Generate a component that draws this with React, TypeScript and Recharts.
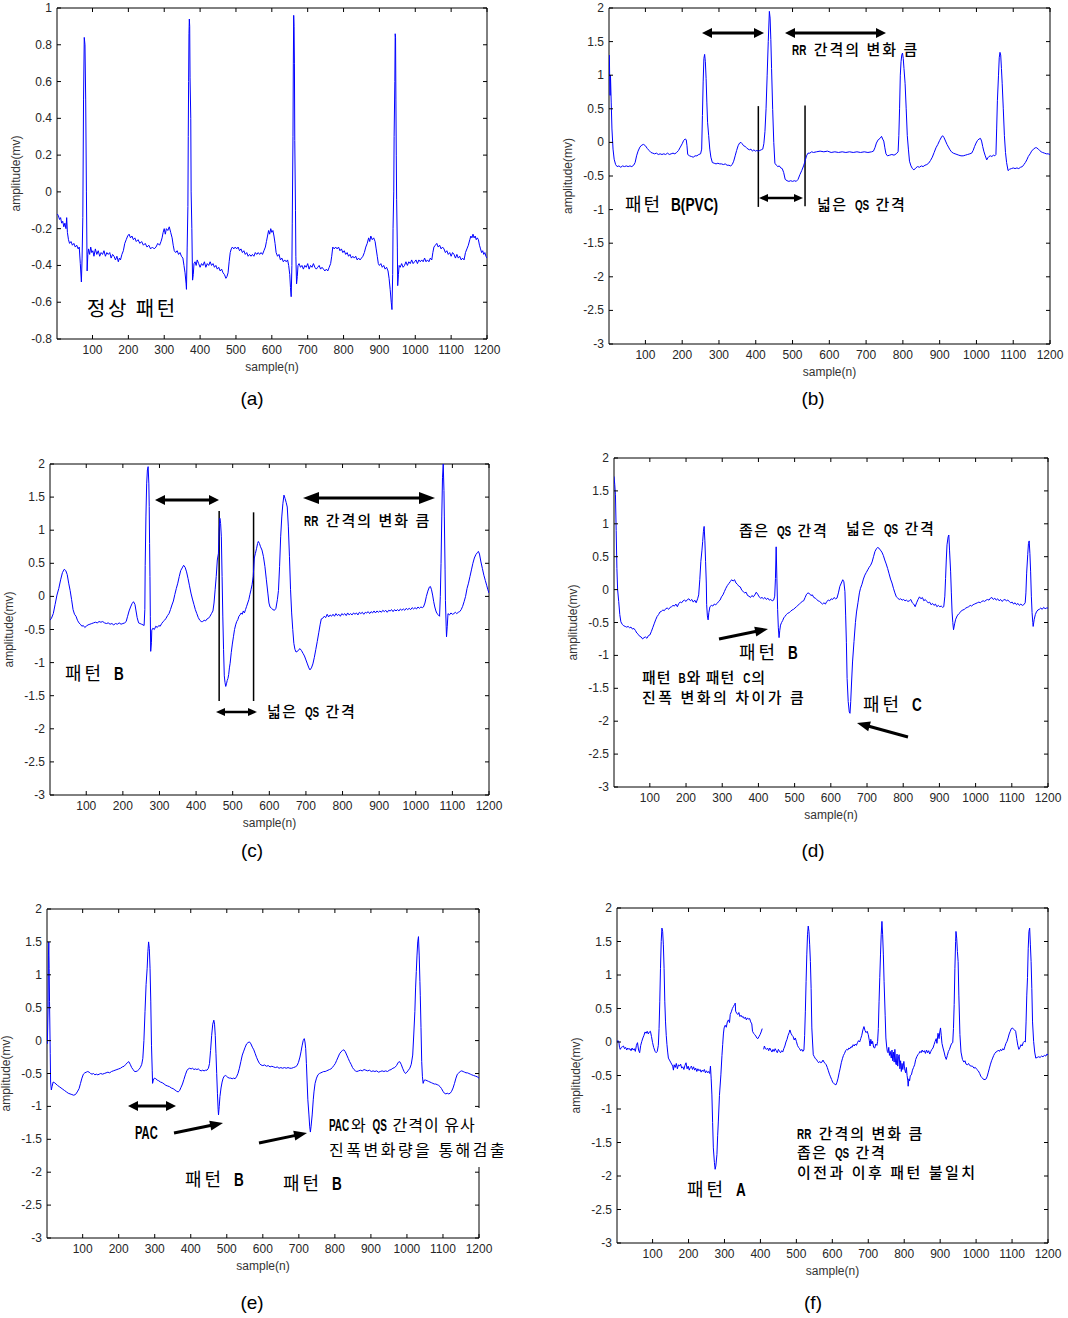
import React from 'react';
import { LineChart, Line, XAxis, YAxis, ReferenceArea, ReferenceLine } from 'recharts';

// sample ticks shared by every panel
const sampleTicks = [100, 200, 300, 400, 500, 600, 700, 800, 900, 1000, 1100, 1200];
const ampTicksA = [-0.8, -0.6, -0.4, -0.2, 0, 0.2, 0.4, 0.6, 0.8, 1];
const ampTicks = [-3, -2.5, -2, -1.5, -1, -0.5, 0, 0.5, 1, 1.5, 2];

// [sample, amplitude(mv)]
const ecgA = [
  [2, -0.12], [5, -0.13], [8, -0.15], [11, -0.14], [14, -0.17], [17, -0.16], [20, -0.19], [23, -0.17], [26, -0.2], [28, -0.14],
  [30, -0.22], [33, -0.26], [36, -0.28], [40, -0.27], [44, -0.29], [48, -0.28], [52, -0.3], [56, -0.29], [60, -0.31], [63, -0.3],
  [66, -0.39], [69, -0.49], [71, -0.36], [73, -0.14], [75, 0.5], [77, 0.84], [79, 0.8], [81, 0.5], [83, 0], [85, -0.43],
  [87, -0.34], [89, -0.31], [92, -0.34], [95, -0.3], [98, -0.33], [101, -0.32], [104, -0.35], [108, -0.31], [112, -0.34], [116, -0.32],
  [120, -0.35], [124, -0.33], [128, -0.34], [132, -0.32], [136, -0.35], [140, -0.33], [144, -0.34], [148, -0.33], [152, -0.36], [156, -0.34],
  [160, -0.35], [164, -0.37], [168, -0.35], [172, -0.38], [175, -0.36], [178, -0.37], [182, -0.34], [186, -0.32], [190, -0.28], [194, -0.26],
  [198, -0.24], [202, -0.23], [206, -0.25], [210, -0.24], [214, -0.26], [218, -0.25], [222, -0.27], [227, -0.26], [232, -0.28], [237, -0.27],
  [242, -0.29], [247, -0.28], [252, -0.3], [257, -0.29], [262, -0.31], [267, -0.3], [272, -0.31], [277, -0.3], [282, -0.28], [287, -0.29],
  [291, -0.27], [294, -0.25], [297, -0.22], [300, -0.2], [303, -0.23], [306, -0.2], [310, -0.21], [314, -0.19], [318, -0.22], [322, -0.25],
  [325, -0.29], [328, -0.32], [332, -0.33], [336, -0.32], [340, -0.34], [344, -0.33], [348, -0.35], [352, -0.36], [355, -0.4], [358, -0.44],
  [361, -0.5], [362, -0.53], [364, -0.3], [366, -0.08], [367, 0.3], [368, 0.6], [369, 0.86], [370, 0.94], [371, 0.9], [372, 0.62],
  [374, 0.4], [375, 0], [377, -0.2], [379, -0.48], [381, -0.45], [383, -0.39], [386, -0.38], [389, -0.4], [392, -0.37], [396, -0.39],
  [400, -0.41], [404, -0.39], [408, -0.4], [412, -0.38], [416, -0.41], [420, -0.39], [424, -0.4], [428, -0.38], [432, -0.4], [436, -0.39],
  [440, -0.41], [444, -0.4], [448, -0.42], [452, -0.41], [456, -0.43], [460, -0.42], [464, -0.44], [468, -0.45], [472, -0.47], [475, -0.46],
  [478, -0.44], [481, -0.38], [484, -0.33], [487, -0.31], [490, -0.3], [494, -0.31], [498, -0.3], [502, -0.31], [506, -0.3], [510, -0.32],
  [514, -0.31], [518, -0.33], [522, -0.32], [526, -0.34], [530, -0.33], [534, -0.35], [538, -0.34], [542, -0.35], [546, -0.34], [550, -0.35],
  [554, -0.33], [558, -0.34], [562, -0.33], [566, -0.34], [570, -0.33], [574, -0.34], [578, -0.32], [582, -0.3], [585, -0.27], [588, -0.24],
  [591, -0.21], [594, -0.23], [597, -0.2], [600, -0.22], [603, -0.21], [606, -0.24], [609, -0.28], [612, -0.33], [616, -0.35], [620, -0.34],
  [624, -0.37], [628, -0.36], [632, -0.38], [636, -0.37], [640, -0.38], [644, -0.37], [647, -0.4], [650, -0.45], [652, -0.52], [654, -0.57],
  [656, -0.4], [657, -0.17], [659, 0.3], [660, 0.7], [661, 0.96], [662, 0.9], [663, 0.7], [664, 0.28], [666, -0.1], [667, -0.35],
  [669, -0.5], [671, -0.46], [673, -0.4], [676, -0.39], [680, -0.41], [684, -0.4], [688, -0.42], [692, -0.4], [696, -0.41], [700, -0.39],
  [704, -0.42], [708, -0.4], [712, -0.41], [716, -0.39], [720, -0.41], [724, -0.42], [728, -0.41], [732, -0.4], [736, -0.42], [740, -0.41],
  [744, -0.42], [748, -0.43], [752, -0.42], [756, -0.43], [760, -0.41], [764, -0.39], [767, -0.35], [770, -0.3], [774, -0.31], [778, -0.3],
  [782, -0.31], [786, -0.3], [790, -0.32], [794, -0.31], [798, -0.33], [802, -0.32], [806, -0.34], [810, -0.33], [814, -0.35], [818, -0.34],
  [822, -0.36], [826, -0.35], [830, -0.36], [834, -0.35], [838, -0.37], [842, -0.36], [846, -0.37], [850, -0.36], [854, -0.35], [858, -0.33],
  [862, -0.3], [866, -0.28], [870, -0.25], [873, -0.27], [876, -0.24], [880, -0.26], [884, -0.25], [888, -0.27], [891, -0.31], [894, -0.35],
  [897, -0.39], [900, -0.4], [904, -0.39], [908, -0.41], [912, -0.4], [916, -0.42], [920, -0.41], [924, -0.43], [927, -0.47], [930, -0.53],
  [933, -0.6], [935, -0.64], [937, -0.45], [938, -0.2], [940, 0], [941, 0.3], [943, 0.6], [944, 0.86], [945, 0.84], [946, 0.5],
  [947, 0.2], [948, -0.04], [950, -0.3], [951, -0.51], [953, -0.45], [955, -0.4], [958, -0.41], [962, -0.39], [966, -0.41], [970, -0.4],
  [974, -0.38], [978, -0.4], [982, -0.38], [986, -0.39], [990, -0.37], [994, -0.39], [998, -0.38], [1002, -0.37], [1006, -0.39], [1010, -0.37],
  [1014, -0.38], [1018, -0.37], [1022, -0.38], [1026, -0.36], [1030, -0.38], [1034, -0.37], [1038, -0.38], [1042, -0.36], [1046, -0.37], [1049, -0.33],
  [1052, -0.3], [1056, -0.29], [1060, -0.28], [1064, -0.3], [1068, -0.29], [1072, -0.31], [1076, -0.3], [1080, -0.31], [1084, -0.33], [1088, -0.32],
  [1092, -0.34], [1096, -0.33], [1100, -0.35], [1104, -0.33], [1108, -0.34], [1112, -0.36], [1116, -0.34], [1120, -0.36], [1124, -0.35], [1128, -0.37],
  [1132, -0.36], [1136, -0.37], [1140, -0.33], [1144, -0.31], [1148, -0.29], [1152, -0.26], [1155, -0.24], [1158, -0.25], [1161, -0.23], [1164, -0.25],
  [1167, -0.24], [1170, -0.26], [1173, -0.25], [1176, -0.26], [1179, -0.29], [1182, -0.31], [1185, -0.33], [1188, -0.32], [1191, -0.34], [1194, -0.33],
  [1197, -0.35], [1200, -0.36],
];

const ecgB = [
  [2, 1.3], [3, 0.9], [4, 0.7], [5, 1.0], [7, 0.6], [9, 0.2], [12, -0.1], [15, -0.25], [19, -0.33], [23, -0.36],
  [28, -0.35], [33, -0.37], [38, -0.35], [43, -0.36], [48, -0.35], [53, -0.36], [58, -0.35], [63, -0.36], [68, -0.34], [72, -0.3],
  [76, -0.2], [80, -0.13], [85, -0.07], [90, -0.04], [95, -0.03], [100, -0.05], [105, -0.09], [110, -0.12], [115, -0.15], [120, -0.16],
  [125, -0.17], [130, -0.16], [135, -0.18], [140, -0.17], [145, -0.18], [150, -0.17], [155, -0.18], [160, -0.16], [165, -0.18], [170, -0.17],
  [175, -0.16], [180, -0.17], [185, -0.15], [190, -0.12], [195, -0.07], [200, -0.02], [204, 0.03], [208, 0.05], [211, 0.04], [213, -0.05],
  [215, -0.18], [220, -0.2], [225, -0.21], [230, -0.22], [235, -0.2], [240, -0.2], [245, -0.18], [250, -0.17], [253, -0.1], [255, 0.4],
  [257, 0.9], [259, 1.25], [261, 1.31], [263, 1.2], [265, 0.95], [267, 0.6], [269, 0.3], [272, 0.1], [275, -0.1], [278, -0.22],
  [282, -0.3], [287, -0.31], [292, -0.32], [297, -0.31], [302, -0.32], [307, -0.32], [312, -0.33], [317, -0.32], [322, -0.34], [327, -0.34],
  [332, -0.35], [336, -0.33], [340, -0.28], [344, -0.2], [348, -0.12], [352, -0.05], [356, -0.01], [360, 0.0], [363, -0.02], [367, -0.05],
  [371, -0.06], [375, -0.08], [379, -0.1], [383, -0.11], [387, -0.1], [391, -0.13], [395, -0.11], [399, -0.13], [403, -0.12], [407, -0.13],
  [411, -0.12], [415, -0.11], [419, -0.1], [422, -0.02], [425, 0.16], [428, 0.5], [431, 1.0], [434, 1.5], [437, 1.95], [439, 1.85],
  [441, 1.53], [443, 1.1], [446, 0.49], [449, 0.0], [452, -0.31], [456, -0.34], [460, -0.36], [464, -0.35], [468, -0.38], [472, -0.39],
  [476, -0.45], [480, -0.55], [485, -0.57], [490, -0.58], [495, -0.57], [500, -0.58], [505, -0.57], [510, -0.58], [515, -0.55], [520, -0.48],
  [525, -0.42], [530, -0.35], [534, -0.28], [538, -0.2], [542, -0.16], [547, -0.16], [552, -0.14], [557, -0.15], [565, -0.14], [575, -0.13],
  [585, -0.14], [595, -0.13], [605, -0.15], [615, -0.14], [625, -0.15], [635, -0.14], [645, -0.15], [655, -0.14], [665, -0.15], [675, -0.14],
  [685, -0.15], [695, -0.14], [705, -0.15], [715, -0.14], [720, -0.13], [724, -0.08], [728, -0.01], [733, 0.04], [738, 0.06], [742, 0.09],
  [745, 0.05], [748, 0.02], [751, -0.08], [754, -0.17], [758, -0.2], [764, -0.19], [770, -0.18], [776, -0.19], [782, -0.17], [787, -0.14],
  [789, 0.1], [791, 0.5], [793, 1.0], [795, 1.2], [797, 1.3], [799, 1.33], [801, 1.25], [803, 1.1], [806, 0.88], [809, 0.5],
  [812, 0.1], [815, -0.1], [818, -0.28], [822, -0.35], [826, -0.39], [830, -0.41], [835, -0.38], [840, -0.36], [845, -0.37], [850, -0.35],
  [855, -0.36], [860, -0.34], [865, -0.33], [870, -0.31], [875, -0.27], [880, -0.22], [885, -0.15], [890, -0.08], [895, -0.03], [900, 0.03],
  [905, 0.08], [908, 0.1], [912, 0.07], [916, 0.02], [920, -0.03], [924, -0.07], [928, -0.11], [932, -0.14], [937, -0.16], [942, -0.17],
  [947, -0.18], [952, -0.19], [958, -0.2], [964, -0.2], [970, -0.19], [976, -0.18], [982, -0.17], [987, -0.16], [991, -0.12], [995, -0.06],
  [999, -0.01], [1003, 0.03], [1007, 0.05], [1011, 0.06], [1014, 0.02], [1017, -0.06], [1020, -0.13], [1024, -0.2], [1028, -0.26], [1031, -0.23],
  [1034, -0.21], [1038, -0.2], [1042, -0.21], [1046, -0.19], [1050, -0.2], [1053, -0.18], [1055, 0.2], [1057, 0.62], [1060, 1.0], [1062, 1.26],
  [1064, 1.34], [1066, 1.3], [1068, 1.1], [1070, 0.88], [1073, 0.5], [1076, 0.1], [1079, -0.15], [1082, -0.3], [1086, -0.42], [1090, -0.4],
  [1095, -0.39], [1100, -0.38], [1105, -0.39], [1110, -0.38], [1115, -0.39], [1120, -0.37], [1125, -0.36], [1129, -0.33], [1133, -0.3], [1137, -0.26],
  [1141, -0.21], [1146, -0.17], [1150, -0.13], [1155, -0.1], [1160, -0.08], [1164, -0.08], [1168, -0.1], [1172, -0.12], [1176, -0.14], [1180, -0.15],
  [1185, -0.16], [1190, -0.17], [1195, -0.17], [1200, -0.18],
];

const ecgC = [
  [1, -0.36], [5, -0.33], [10, -0.26], [15, -0.12], [20, 0.02], [25, 0.12], [30, 0.25], [35, 0.36], [40, 0.41], [44, 0.39],
  [48, 0.33], [52, 0.2], [56, 0.09], [60, -0.05], [64, -0.2], [68, -0.27], [72, -0.3], [76, -0.36], [80, -0.4], [84, -0.42],
  [88, -0.45], [92, -0.44], [96, -0.47], [100, -0.45], [105, -0.43], [110, -0.42], [115, -0.41], [120, -0.4], [125, -0.39], [130, -0.4],
  [135, -0.38], [140, -0.39], [145, -0.38], [150, -0.4], [155, -0.41], [160, -0.4], [165, -0.42], [170, -0.41], [175, -0.43], [180, -0.41],
  [185, -0.42], [190, -0.4], [195, -0.42], [200, -0.41], [205, -0.4], [209, -0.38], [213, -0.3], [217, -0.22], [221, -0.16], [225, -0.11],
  [229, -0.08], [233, -0.12], [236, -0.22], [239, -0.32], [243, -0.4], [247, -0.41], [251, -0.42], [255, -0.43], [258, -0.44], [260, -0.2],
  [261, 0.47], [263, 1.2], [265, 1.7], [267, 1.91], [269, 1.96], [271, 1.7], [272, 1.36], [273, 0.8], [274, 0.3], [275, -0.3],
  [276, -0.83], [278, -0.7], [279, -0.51], [282, -0.48], [286, -0.5], [290, -0.45], [294, -0.47], [298, -0.44], [302, -0.45], [306, -0.41],
  [310, -0.38], [314, -0.36], [318, -0.33], [322, -0.29], [326, -0.26], [330, -0.2], [334, -0.13], [338, -0.07], [342, 0.03], [346, 0.12],
  [350, 0.2], [354, 0.3], [358, 0.39], [362, 0.43], [366, 0.47], [370, 0.44], [374, 0.37], [378, 0.27], [382, 0.16], [386, 0.05],
  [390, -0.04], [394, -0.12], [398, -0.2], [402, -0.26], [406, -0.32], [410, -0.36], [414, -0.38], [418, -0.38], [422, -0.36], [426, -0.37],
  [430, -0.34], [434, -0.33], [438, -0.3], [442, -0.26], [446, -0.22], [449, -0.1], [452, 0.1], [455, 0.3], [458, 0.55], [461, 0.65],
  [463, 1.0], [465, 1.18], [467, 1.1], [469, 0.9], [471, 0.3], [473, -0.31], [475, -0.8], [477, -1.2], [479, -1.3], [481, -1.36],
  [483, -1.32], [485, -1.27], [487, -1.24], [489, -1.18], [491, -1.08], [493, -1.01], [496, -0.85], [499, -0.72], [502, -0.61], [505, -0.5],
  [508, -0.43], [511, -0.38], [514, -0.35], [517, -0.3], [520, -0.28], [523, -0.25], [526, -0.27], [529, -0.22], [532, -0.25], [535, -0.2],
  [538, -0.15], [541, -0.1], [544, -0.05], [547, 0.03], [550, 0.1], [553, 0.18], [556, 0.3], [559, 0.58], [562, 0.65], [565, 0.72],
  [568, 0.8], [570, 0.83], [573, 0.8], [576, 0.75], [580, 0.7], [584, 0.6], [588, 0.45], [592, 0.25], [596, 0.05], [599, -0.1],
  [602, -0.16], [606, -0.18], [610, -0.2], [614, -0.21], [618, -0.18], [622, -0.05], [625, 0.09], [628, 0.45], [631, 0.9], [634, 1.2],
  [637, 1.4], [640, 1.53], [643, 1.48], [646, 1.42], [649, 1.35], [652, 1.05], [655, 0.6], [658, 0.1], [661, -0.25], [664, -0.5],
  [667, -0.71], [670, -0.8], [673, -0.84], [677, -0.83], [681, -0.8], [684, -0.79], [688, -0.82], [692, -0.86], [696, -0.9], [700, -0.96],
  [704, -1.02], [708, -1.08], [711, -1.11], [715, -1.08], [719, -1.02], [723, -0.92], [727, -0.8], [731, -0.68], [735, -0.55], [739, -0.42],
  [742, -0.34], [746, -0.33], [750, -0.3], [754, -0.32], [758, -0.27], [762, -0.31], [766, -0.28], [770, -0.3], [774, -0.27], [778, -0.3],
  [782, -0.26], [786, -0.29], [790, -0.27], [794, -0.3], [798, -0.26], [802, -0.28], [806, -0.26], [810, -0.29], [814, -0.25], [818, -0.28],
  [822, -0.26], [826, -0.28], [830, -0.25], [834, -0.27], [838, -0.25], [842, -0.28], [846, -0.24], [850, -0.26], [854, -0.24], [858, -0.27],
  [862, -0.24], [866, -0.25], [870, -0.23], [874, -0.26], [878, -0.23], [882, -0.25], [886, -0.22], [890, -0.25], [894, -0.22], [898, -0.24],
  [902, -0.22], [906, -0.24], [910, -0.21], [914, -0.23], [918, -0.21], [922, -0.24], [926, -0.21], [930, -0.22], [934, -0.2], [938, -0.23],
  [942, -0.2], [946, -0.22], [950, -0.2], [954, -0.22], [958, -0.19], [962, -0.21], [966, -0.19], [970, -0.21], [974, -0.18], [978, -0.2],
  [982, -0.18], [986, -0.2], [990, -0.17], [994, -0.19], [998, -0.17], [1002, -0.19], [1006, -0.16], [1010, -0.18], [1014, -0.16], [1018, -0.17],
  [1021, -0.16], [1025, -0.1], [1029, 0.0], [1033, 0.08], [1037, 0.14], [1040, 0.15], [1043, 0.1], [1046, 0.02], [1049, -0.08], [1052, -0.16],
  [1055, -0.22], [1058, -0.26], [1062, -0.28], [1065, -0.3], [1067, 0.0], [1069, 0.5], [1071, 1.2], [1073, 1.8], [1075, 2.0], [1077, 1.6],
  [1078, 1.2], [1080, 0.4], [1081, -0.06], [1083, -0.45], [1084, -0.61], [1086, -0.45], [1088, -0.26], [1092, -0.28], [1096, -0.25], [1100, -0.27],
  [1104, -0.26], [1108, -0.24], [1112, -0.26], [1116, -0.24], [1120, -0.23], [1124, -0.2], [1128, -0.15], [1132, -0.08], [1136, 0.0], [1140, 0.12],
  [1144, 0.2], [1148, 0.3], [1152, 0.4], [1156, 0.5], [1160, 0.58], [1164, 0.63], [1168, 0.66], [1171, 0.68], [1174, 0.64], [1178, 0.52],
  [1182, 0.42], [1186, 0.32], [1190, 0.24], [1194, 0.16], [1197, 0.1], [1200, 0.05],
];

const ecgD = [
  [1, 1.72], [3, 1.6], [5, 1.44], [7, 0.9], [9, 0.32], [11, 0.0], [14, -0.18], [17, -0.38], [20, -0.49], [24, -0.53],
  [28, -0.55], [32, -0.56], [36, -0.57], [40, -0.56], [44, -0.58], [48, -0.57], [52, -0.6], [56, -0.59], [60, -0.62], [64, -0.66],
  [68, -0.68], [72, -0.71], [76, -0.72], [80, -0.75], [84, -0.73], [88, -0.72], [92, -0.74], [96, -0.7], [100, -0.69], [104, -0.64],
  [108, -0.58], [112, -0.52], [116, -0.46], [120, -0.41], [124, -0.38], [128, -0.34], [132, -0.33], [136, -0.31], [140, -0.32], [144, -0.29],
  [148, -0.28], [152, -0.3], [156, -0.27], [160, -0.26], [164, -0.24], [168, -0.25], [172, -0.22], [176, -0.26], [180, -0.21], [184, -0.19],
  [188, -0.2], [192, -0.17], [196, -0.16], [200, -0.18], [204, -0.15], [208, -0.14], [212, -0.17], [216, -0.15], [220, -0.19], [224, -0.16],
  [228, -0.2], [232, -0.14], [235, -0.08], [238, 0.15], [241, 0.43], [244, 0.6], [246, 0.73], [248, 0.88], [250, 0.96], [252, 0.75],
  [254, 0.43], [256, 0.1], [257, -0.23], [259, -0.4], [261, -0.46], [263, -0.35], [266, -0.26], [270, -0.24], [274, -0.25], [278, -0.22],
  [282, -0.23], [286, -0.21], [290, -0.18], [294, -0.16], [298, -0.11], [302, -0.08], [306, -0.03], [310, 0.02], [314, 0.06], [318, 0.09],
  [322, 0.12], [326, 0.15], [330, 0.13], [334, 0.15], [338, 0.1], [342, 0.08], [346, 0.05], [350, 0.04], [354, -0.01], [358, -0.03],
  [362, -0.05], [366, -0.04], [370, -0.09], [374, -0.1], [378, -0.12], [382, -0.09], [386, -0.11], [390, -0.08], [394, -0.04], [398, -0.07],
  [402, -0.11], [406, -0.13], [410, -0.12], [414, -0.14], [418, -0.12], [422, -0.15], [426, -0.13], [430, -0.16], [434, -0.15], [438, -0.17],
  [442, -0.16], [445, -0.1], [447, 0.17], [449, 0.65], [451, 0.17], [453, -0.3], [455, -0.58], [457, -0.73], [459, -0.62], [461, -0.54],
  [464, -0.5], [467, -0.47], [470, -0.43], [473, -0.41], [477, -0.38], [481, -0.36], [485, -0.35], [489, -0.33], [493, -0.31], [497, -0.3],
  [501, -0.28], [505, -0.26], [509, -0.24], [513, -0.22], [517, -0.2], [521, -0.18], [525, -0.17], [529, -0.12], [533, -0.07], [537, -0.05],
  [541, -0.06], [545, -0.09], [549, -0.08], [553, -0.12], [557, -0.13], [561, -0.15], [565, -0.17], [569, -0.18], [573, -0.2], [577, -0.22],
  [581, -0.2], [585, -0.22], [589, -0.18], [593, -0.16], [597, -0.17], [601, -0.14], [605, -0.15], [609, -0.12], [613, -0.14], [617, -0.13],
  [621, -0.05], [625, 0.05], [629, 0.1], [633, 0.15], [636, 0.12], [639, -0.03], [641, -0.4], [643, -0.8], [645, -1.35], [648, -1.7],
  [651, -1.86], [653, -1.88], [655, -1.7], [657, -1.45], [660, -1.1], [664, -0.79], [668, -0.5], [671, -0.34], [675, -0.2], [679, -0.05],
  [682, 0.02], [686, 0.08], [690, 0.16], [694, 0.22], [698, 0.26], [702, 0.3], [706, 0.34], [710, 0.37], [714, 0.42], [718, 0.5],
  [722, 0.58], [726, 0.62], [729, 0.64], [733, 0.63], [737, 0.6], [741, 0.57], [745, 0.52], [749, 0.45], [753, 0.39], [757, 0.32],
  [761, 0.24], [765, 0.16], [769, 0.1], [773, 0.02], [777, -0.05], [781, -0.11], [785, -0.13], [789, -0.15], [793, -0.14], [797, -0.16],
  [801, -0.15], [805, -0.17], [809, -0.16], [813, -0.18], [817, -0.17], [821, -0.15], [825, -0.2], [829, -0.22], [833, -0.26], [837, -0.2],
  [841, -0.15], [845, -0.11], [849, -0.14], [853, -0.12], [857, -0.17], [861, -0.15], [865, -0.18], [869, -0.2], [873, -0.19], [877, -0.23],
  [881, -0.21], [885, -0.24], [889, -0.22], [893, -0.26], [897, -0.24], [901, -0.26], [905, -0.25], [909, -0.27], [912, -0.26], [915, -0.1],
  [917, 0.17], [919, 0.45], [921, 0.68], [924, 0.8], [926, 0.83], [928, 0.6], [931, 0.27], [933, -0.05], [935, -0.34], [937, -0.5],
  [939, -0.61], [942, -0.52], [945, -0.45], [949, -0.4], [953, -0.37], [957, -0.35], [961, -0.32], [965, -0.31], [969, -0.3], [973, -0.28],
  [977, -0.27], [981, -0.26], [985, -0.24], [989, -0.25], [993, -0.23], [997, -0.22], [1001, -0.21], [1005, -0.2], [1009, -0.19], [1013, -0.2],
  [1017, -0.18], [1021, -0.17], [1025, -0.18], [1029, -0.16], [1033, -0.15], [1037, -0.16], [1041, -0.13], [1045, -0.12], [1049, -0.15], [1053, -0.13],
  [1057, -0.16], [1061, -0.14], [1065, -0.17], [1069, -0.15], [1073, -0.18], [1077, -0.16], [1081, -0.15], [1085, -0.17], [1089, -0.16], [1093, -0.18],
  [1097, -0.2], [1101, -0.19], [1105, -0.22], [1109, -0.2], [1113, -0.23], [1117, -0.21], [1121, -0.24], [1125, -0.22], [1129, -0.24], [1133, -0.23],
  [1137, -0.2], [1139, -0.05], [1141, 0.25], [1144, 0.53], [1146, 0.7], [1148, 0.74], [1150, 0.55], [1152, 0.27], [1154, -0.1], [1156, -0.35],
  [1158, -0.5], [1159, -0.56], [1162, -0.45], [1165, -0.38], [1168, -0.34], [1172, -0.31], [1176, -0.3], [1180, -0.28], [1184, -0.3], [1188, -0.27],
  [1192, -0.29], [1196, -0.28], [1200, -0.28],
];

const ecgE = [
  [2, -0.05], [4, 0.5], [5, 1.3], [6, 1.5], [7, 1.1], [8, 0.59], [10, -0.2], [11, -0.63], [13, -0.75], [15, -0.7],
  [18, -0.63], [22, -0.64], [26, -0.66], [30, -0.68], [35, -0.7], [40, -0.72], [45, -0.74], [50, -0.76], [55, -0.78], [60, -0.8],
  [65, -0.81], [70, -0.82], [75, -0.83], [80, -0.82], [85, -0.78], [90, -0.73], [94, -0.65], [98, -0.57], [102, -0.51], [106, -0.49],
  [110, -0.48], [114, -0.47], [118, -0.48], [122, -0.5], [126, -0.51], [130, -0.5], [134, -0.52], [138, -0.51], [142, -0.52], [146, -0.51],
  [150, -0.5], [155, -0.51], [160, -0.5], [165, -0.49], [170, -0.48], [175, -0.49], [180, -0.47], [185, -0.46], [190, -0.45], [195, -0.44],
  [200, -0.43], [205, -0.42], [210, -0.4], [215, -0.39], [220, -0.36], [225, -0.33], [228, -0.32], [232, -0.36], [236, -0.41], [240, -0.44],
  [244, -0.47], [248, -0.47], [252, -0.46], [256, -0.44], [260, -0.41], [264, -0.36], [267, -0.27], [270, 0.0], [273, 0.44], [276, 0.85],
  [279, 1.1], [281, 1.35], [283, 1.5], [285, 1.4], [287, 1.1], [289, 0.6], [291, -0.07], [293, -0.45], [294, -0.65], [296, -0.6],
  [299, -0.57], [303, -0.58], [307, -0.6], [311, -0.61], [316, -0.63], [321, -0.64], [326, -0.66], [331, -0.68], [336, -0.69], [341, -0.7],
  [346, -0.72], [351, -0.73], [356, -0.75], [361, -0.77], [365, -0.78], [369, -0.76], [373, -0.71], [377, -0.66], [381, -0.59], [385, -0.52],
  [389, -0.46], [393, -0.43], [397, -0.42], [401, -0.43], [405, -0.42], [409, -0.44], [413, -0.43], [417, -0.44], [421, -0.43], [425, -0.45],
  [429, -0.46], [433, -0.45], [437, -0.46], [441, -0.45], [445, -0.45], [449, -0.42], [452, -0.35], [455, -0.15], [458, 0.08], [461, 0.25],
  [464, 0.31], [466, 0.25], [468, 0.08], [470, -0.2], [472, -0.5], [474, -0.8], [476, -1.05], [477, -1.13], [479, -1.0], [481, -0.85],
  [484, -0.72], [487, -0.63], [490, -0.57], [493, -0.54], [496, -0.53], [499, -0.54], [503, -0.56], [507, -0.57], [511, -0.57], [515, -0.58],
  [519, -0.57], [523, -0.58], [527, -0.55], [531, -0.5], [535, -0.42], [539, -0.32], [543, -0.22], [547, -0.16], [551, -0.1], [555, -0.05],
  [559, -0.03], [563, -0.02], [567, -0.05], [571, -0.1], [575, -0.14], [579, -0.2], [583, -0.26], [587, -0.31], [591, -0.35], [595, -0.37],
  [600, -0.38], [605, -0.37], [610, -0.39], [615, -0.38], [620, -0.4], [625, -0.39], [630, -0.4], [635, -0.41], [640, -0.4], [645, -0.42],
  [650, -0.41], [655, -0.42], [660, -0.41], [665, -0.42], [670, -0.41], [675, -0.42], [680, -0.42], [685, -0.41], [690, -0.4], [695, -0.38],
  [699, -0.33], [703, -0.25], [706, -0.17], [709, -0.08], [712, 0.0], [715, 0.03], [717, -0.02], [719, -0.12], [721, -0.35], [723, -0.63],
  [725, -0.9], [728, -1.13], [730, -1.3], [732, -1.39], [734, -1.3], [737, -1.13], [740, -0.9], [742, -0.78], [745, -0.65], [749, -0.57],
  [753, -0.52], [757, -0.5], [761, -0.49], [765, -0.48], [769, -0.47], [773, -0.47], [777, -0.46], [781, -0.45], [785, -0.44], [789, -0.43],
  [793, -0.41], [797, -0.38], [801, -0.35], [805, -0.3], [809, -0.25], [813, -0.2], [817, -0.17], [821, -0.15], [825, -0.14], [829, -0.17],
  [833, -0.22], [837, -0.27], [841, -0.32], [845, -0.36], [849, -0.41], [853, -0.44], [857, -0.46], [861, -0.47], [866, -0.46], [871, -0.45],
  [876, -0.46], [881, -0.44], [886, -0.45], [891, -0.46], [896, -0.45], [901, -0.47], [906, -0.46], [911, -0.47], [916, -0.46], [921, -0.48],
  [926, -0.47], [931, -0.46], [936, -0.47], [941, -0.46], [946, -0.47], [951, -0.45], [956, -0.44], [961, -0.42], [966, -0.41], [971, -0.38],
  [976, -0.33], [980, -0.32], [984, -0.36], [988, -0.42], [992, -0.47], [996, -0.5], [1000, -0.48], [1004, -0.45], [1008, -0.42], [1012, -0.36],
  [1016, -0.22], [1019, 0.1], [1022, 0.44], [1024, 0.8], [1026, 1.05], [1028, 1.3], [1030, 1.5], [1032, 1.58], [1034, 1.3], [1036, 0.9],
  [1037, 0.69], [1039, 0.2], [1041, -0.32], [1043, -0.55], [1045, -0.65], [1048, -0.6], [1052, -0.6], [1056, -0.61], [1060, -0.62], [1064, -0.63],
  [1068, -0.64], [1072, -0.65], [1076, -0.66], [1080, -0.66], [1084, -0.67], [1088, -0.68], [1092, -0.7], [1096, -0.73], [1100, -0.77], [1104, -0.8],
  [1108, -0.81], [1112, -0.8], [1116, -0.81], [1120, -0.8], [1124, -0.77], [1128, -0.72], [1132, -0.65], [1136, -0.57], [1140, -0.51], [1144, -0.49],
  [1148, -0.47], [1152, -0.46], [1156, -0.47], [1160, -0.48], [1164, -0.49], [1168, -0.49], [1172, -0.5], [1176, -0.51], [1180, -0.52], [1185, -0.53],
  [1190, -0.54], [1195, -0.55], [1200, -0.57],
];

// null at 407: the recording breaks there
const ecgF = [
  [1, -0.01], [3, 0.02], [6, 0.01], [8, -0.08], [10, -0.11], [13, -0.08], [16, -0.07], [19, -0.06], [22, -0.1], [25, -0.08],
  [28, -0.12], [31, -0.09], [34, -0.11], [37, -0.1], [40, -0.13], [43, -0.09], [46, -0.12], [49, -0.1], [52, -0.14], [55, -0.05],
  [58, -0.01], [61, -0.12], [64, -0.16], [67, -0.05], [70, 0.01], [73, 0.06], [76, 0.1], [79, 0.15], [82, 0.13], [85, 0.16],
  [88, 0.12], [91, 0.15], [94, 0.16], [97, 0.08], [100, -0.01], [103, -0.08], [107, -0.14], [110, -0.16], [113, -0.14], [116, -0.05],
  [118, 0.2], [120, 0.6], [122, 1.1], [124, 1.5], [126, 1.7], [128, 1.65], [130, 1.45], [132, 1.1], [134, 0.6], [136, 0.3],
  [138, 0.1], [140, -0.04], [142, -0.15], [144, -0.24], [147, -0.27], [150, -0.3], [153, -0.33], [156, -0.36], [158, -0.42], [160, -0.34],
  [163, -0.38], [166, -0.32], [169, -0.4], [172, -0.34], [175, -0.36], [178, -0.33], [181, -0.39], [184, -0.37], [187, -0.41], [190, -0.35],
  [193, -0.31], [196, -0.4], [199, -0.36], [202, -0.42], [205, -0.38], [208, -0.36], [211, -0.41], [214, -0.37], [217, -0.42], [220, -0.39],
  [223, -0.44], [226, -0.4], [229, -0.43], [232, -0.41], [235, -0.45], [238, -0.42], [241, -0.44], [244, -0.41], [247, -0.46], [250, -0.43],
  [253, -0.46], [256, -0.44], [259, -0.47], [261, -0.36], [263, -0.55], [265, -0.79], [267, -1.2], [269, -1.58], [272, -1.8], [274, -1.9],
  [276, -1.85], [279, -1.68], [281, -1.4], [283, -1.18], [286, -0.8], [290, -0.49], [293, -0.2], [295, -0.04], [297, 0.12], [299, 0.21],
  [302, 0.25], [305, 0.22], [308, 0.3], [311, 0.33], [314, 0.29], [316, 0.41], [319, 0.45], [322, 0.5], [325, 0.53], [328, 0.56],
  [330, 0.58], [331, 0.46], [334, 0.43], [337, 0.41], [340, 0.44], [343, 0.38], [346, 0.4], [349, 0.37], [352, 0.38], [355, 0.35],
  [358, 0.37], [361, 0.33], [364, 0.36], [367, 0.34], [370, 0.35], [373, 0.3], [376, 0.27], [378, 0.16], [381, 0.13], [384, 0.11],
  [387, 0.09], [390, 0.06], [393, 0.05], [396, 0.08], [399, 0.11], [402, 0.15], [405, 0.2], [407, null], [409, -0.11], [411, -0.06],
  [414, -0.1], [417, -0.11], [420, -0.09], [423, -0.13], [426, -0.09], [429, -0.12], [432, -0.15], [435, -0.11], [438, -0.14], [441, -0.1],
  [444, -0.13], [447, -0.16], [450, -0.11], [453, -0.14], [456, -0.16], [459, -0.13], [462, -0.15], [465, -0.1], [468, -0.06], [471, 0.0],
  [474, 0.04], [477, 0.1], [480, 0.14], [482, 0.18], [485, 0.13], [488, 0.1], [491, 0.08], [494, 0.03], [497, 0.06], [500, 0.01],
  [503, -0.05], [506, -0.08], [509, -0.1], [512, -0.13], [515, -0.11], [518, -0.14], [521, -0.12], [523, 0.1], [525, 0.46], [527, 0.9],
  [529, 1.3], [531, 1.6], [533, 1.73], [535, 1.65], [537, 1.45], [539, 1.2], [541, 0.8], [543, 0.21], [545, 0.0], [547, -0.19],
  [550, -0.22], [553, -0.25], [556, -0.26], [559, -0.29], [562, -0.31], [565, -0.29], [568, -0.31], [571, -0.3], [574, -0.27], [577, -0.3],
  [580, -0.32], [583, -0.34], [586, -0.38], [589, -0.43], [592, -0.48], [595, -0.52], [598, -0.56], [601, -0.6], [604, -0.62], [607, -0.63],
  [610, -0.64], [613, -0.6], [616, -0.54], [619, -0.46], [622, -0.39], [625, -0.31], [628, -0.25], [631, -0.2], [634, -0.17], [637, -0.13],
  [640, -0.11], [643, -0.12], [646, -0.09], [649, -0.1], [652, -0.07], [655, -0.08], [658, -0.04], [661, -0.06], [664, -0.03], [667, -0.05],
  [670, -0.01], [673, 0.02], [676, 0.0], [679, 0.05], [682, 0.1], [685, 0.18], [688, 0.23], [691, 0.17], [694, 0.14], [697, 0.16],
  [700, 0.11], [703, 0.02], [705, -0.06], [707, 0.04], [710, -0.03], [712, 0.01], [715, -0.08], [718, -0.09], [721, -0.03], [724, -0.05],
  [726, 0.01], [728, 0.2], [730, 0.6], [732, 0.96], [734, 1.3], [736, 1.6], [738, 1.8], [740, 1.6], [742, 1.3], [744, 0.9],
  [747, 0.4], [749, 0.06], [751, -0.06], [753, -0.14], [755, -0.16], [757, -0.08], [759, -0.2], [761, -0.14], [764, -0.24], [766, -0.12],
  [768, -0.28], [770, -0.15], [772, -0.3], [774, -0.11], [776, -0.31], [778, -0.34], [780, -0.18], [782, -0.36], [784, -0.22], [786, -0.19],
  [788, -0.4], [790, -0.28], [792, -0.44], [794, -0.32], [796, -0.41], [799, -0.29], [801, -0.4], [804, -0.46], [806, -0.38], [808, -0.5],
  [810, -0.58], [811, -0.66], [813, -0.55], [815, -0.58], [817, -0.5], [820, -0.49], [823, -0.42], [826, -0.38], [829, -0.34], [832, -0.26],
  [835, -0.22], [838, -0.19], [841, -0.17], [844, -0.14], [847, -0.16], [850, -0.12], [853, -0.15], [856, -0.13], [859, -0.17], [862, -0.12],
  [865, -0.16], [868, -0.13], [871, -0.18], [874, -0.14], [877, -0.11], [880, -0.09], [883, -0.04], [886, 0.01], [889, 0.05], [891, -0.02],
  [894, 0.13], [897, 0.05], [899, 0.15], [901, 0.21], [903, 0.1], [905, -0.02], [908, -0.09], [911, -0.15], [914, -0.22], [917, -0.26],
  [920, -0.2], [923, -0.14], [926, -0.11], [929, -0.06], [932, -0.02], [935, -0.01], [937, 0.2], [939, 0.56], [941, 1.1], [943, 1.5],
  [944, 1.65], [946, 1.55], [948, 1.35], [950, 1.2], [952, 0.7], [955, 0.11], [958, -0.15], [962, -0.26], [966, -0.3], [969, -0.28],
  [972, -0.33], [976, -0.34], [979, -0.32], [982, -0.35], [986, -0.36], [990, -0.36], [994, -0.39], [998, -0.38], [1002, -0.41], [1006, -0.43],
  [1010, -0.47], [1013, -0.51], [1016, -0.53], [1019, -0.55], [1022, -0.56], [1025, -0.56], [1028, -0.55], [1031, -0.51], [1034, -0.45], [1037, -0.39],
  [1040, -0.33], [1043, -0.28], [1046, -0.24], [1049, -0.2], [1052, -0.17], [1055, -0.15], [1059, -0.14], [1062, -0.12], [1065, -0.14], [1068, -0.11],
  [1071, -0.13], [1074, -0.1], [1077, -0.12], [1080, -0.07], [1083, -0.02], [1086, 0.01], [1089, 0.06], [1092, 0.12], [1095, 0.16], [1098, 0.2],
  [1101, 0.21], [1104, 0.19], [1107, 0.18], [1110, 0.16], [1113, 0.05], [1116, -0.05], [1119, -0.11], [1122, -0.08], [1125, -0.04], [1128, -0.06],
  [1131, -0.01], [1134, 0.01], [1137, 0.0], [1139, 0.3], [1141, 0.7], [1143, 0.96], [1145, 1.4], [1147, 1.65], [1149, 1.7], [1151, 1.45],
  [1153, 1.2], [1155, 0.8], [1157, 0.3], [1160, 0.01], [1163, -0.15], [1166, -0.24], [1170, -0.23], [1174, -0.22], [1178, -0.23], [1182, -0.21],
  [1186, -0.22], [1190, -0.2], [1194, -0.21], [1197, -0.18], [1200, -0.19],
];

// QS bracket lines: [sample, top mv, bottom mv]
const qsLinesB = [[407, 0.54, -0.96], [534, 0.55, -0.95]];
const qsLinesC = [[463, 1.29, -1.58], [557, 1.27, -1.58]];

const AXIS_W = 57;
const PAD_T = 10;
const PAD_R = 16;
const AXIS_H = 40;
const TXT = '#262626';
const SANS = "'Liberation Sans', Arial, sans-serif";
const KR = "'Noto Sans CJK KR', 'Noto Sans', sans-serif";

// rough bold advance widths (em) so the latin runs can be squeezed like the figure's condensed face
const LATIN_W: Record<string, number> = { A: 0.72, B: 0.72, C: 0.72, P: 0.67, Q: 0.78, R: 0.72, S: 0.67, V: 0.67, '(': 0.33, ')': 0.33 };
const KR_SPACE = 0.224; // space advance in Noto Sans CJK, em

type Pt = [number, number | null];

function Panel({ box, yTicks, points, qs }: { box: number[]; yTicks: number[]; points: Pt[]; qs?: number[][] }) {
  const [l, t, r, b] = box;
  const w = r - l;
  const h = b - t;
  const data = points.map(([n, v]) => ({ n, v }));
  const yMin = yTicks[0];
  const yMax = yTicks[yTicks.length - 1];
  const bottom = PAD_T + h;
  const right = AXIS_W + w;

  const xTick = (p: any) => (
    <g>
      <line x1={p.x} x2={p.x} y1={bottom} y2={bottom - 4} stroke="#000" />
      <line x1={p.x} x2={p.x} y1={PAD_T} y2={PAD_T + 4} stroke="#000" />
      <text x={p.x} y={bottom + 15} textAnchor="middle" fontSize={12} fill={TXT} fontFamily={SANS}>
        {p.payload.value}
      </text>
    </g>
  );
  const yTick = (p: any) => (
    <g>
      <line x1={AXIS_W} x2={AXIS_W + 4} y1={p.y} y2={p.y} stroke="#000" />
      <line x1={right} x2={right - 4} y1={p.y} y2={p.y} stroke="#000" />
      <text x={AXIS_W - 5} y={p.y + 4} textAnchor="end" fontSize={12} fill={TXT} fontFamily={SANS}>
        {String(p.payload.value)}
      </text>
    </g>
  );

  return (
    <div style={{ position: 'absolute', left: l - AXIS_W, top: t - PAD_T }}>
      <LineChart
        width={w + AXIS_W + PAD_R}
        height={h + PAD_T + AXIS_H}
        data={data}
        margin={{ top: PAD_T, right: PAD_R, bottom: 0, left: 0 }}
      >
        <XAxis
          dataKey="n"
          type="number"
          domain={[1, 1200]}
          ticks={sampleTicks}
          interval={0}
          height={AXIS_H}
          axisLine={false}
          tickLine={false}
          tick={xTick}
          allowDataOverflow
          label={{ value: 'sample(n)', position: 'insideBottom', offset: 8, fontSize: 12, fill: '#333', fontFamily: SANS }}
        />
        <YAxis
          type="number"
          domain={[yMin, yMax]}
          ticks={yTicks}
          interval={0}
          width={AXIS_W}
          axisLine={false}
          tickLine={false}
          tick={yTick}
          allowDataOverflow
          label={{
            value: 'amplitude(mv)', angle: -90, position: 'insideLeft', offset: 16,
            fontSize: 12, fill: '#333', fontFamily: SANS, style: { textAnchor: 'middle' },
          }}
        />
        <ReferenceArea x1={1} x2={1200} y1={yMin} y2={yMax} fill="none" fillOpacity={0} stroke="#000" strokeWidth={1} ifOverflow="visible" />
        {(qs ?? []).map(([n, top, bot]) => (
          <ReferenceLine
            key={n}
            segment={[{ x: n, y: top }, { x: n, y: bot }]}
            stroke="#000"
            strokeWidth={1.5}
            ifOverflow="visible"
          />
        ))}
        <Line dataKey="v" stroke="#0000ff" strokeWidth={1} dot={false} isAnimationActive={false} />
      </LineChart>
    </div>
  );
}

// Korean note; latin runs drawn as separate, horizontally squeezed bold text
function Note({ x, y, text, size = 15, weight = 500, gap = 1.5, squeeze = 0.66 }:
  { x: number; y: number; text: string; size?: number; weight?: number; gap?: number; squeeze?: number }) {
  const runs = text.match(/[A-Za-z()]+|[^A-Za-z()]+/g) ?? [];
  let cx = x;
  const parts = runs.map((run, i) => {
    const x0 = cx;
    if (/[A-Za-z]/.test(run)) {
      const natural = run.split('').reduce((s, c) => s + (LATIN_W[c] ?? 0.6), 0) * size;
      cx += natural * squeeze + gap;
      return (
        <text key={i} transform={`translate(${x0.toFixed(1)},${y}) scale(${squeeze},1)`} fontSize={size} fontWeight={700} fill="#000" fontFamily={SANS}>
          {run}
        </text>
      );
    }
    cx += run.split('').reduce((s, c) => s + (c === ' ' ? KR_SPACE * size : size) + gap, 0);
    return (
      <text key={i} x={x0} y={y} fontSize={size} fontWeight={weight} fill="#000" fontFamily={KR} letterSpacing={gap} style={{ whiteSpace: 'pre' }}>
        {run}
      </text>
    );
  });
  return <g>{parts}</g>;
}

function Arrow({ x1, y1, x2, y2, both = false, head = 10, half = 5, sw = 3 }:
  { x1: number; y1: number; x2: number; y2: number; both?: boolean; head?: number; half?: number; sw?: number }) {
  const dx = x2 - x1;
  const dy = y2 - y1;
  const len = Math.hypot(dx, dy);
  const ux = dx / len;
  const uy = dy / len;
  const tri = (tx: number, ty: number, s: number) => {
    const bx = tx - s * ux * head;
    const by = ty - s * uy * head;
    return `${tx},${ty} ${bx - uy * half},${by + ux * half} ${bx + uy * half},${by - ux * half}`;
  };
  const sx = both ? x1 + ux * head * 0.8 : x1;
  const sy = both ? y1 + uy * head * 0.8 : y1;
  return (
    <g>
      <line x1={sx} y1={sy} x2={x2 - ux * head * 0.8} y2={y2 - uy * head * 0.8} stroke="#000" strokeWidth={sw} />
      <polygon points={tri(x2, y2, 1)} fill="#000" />
      {both && <polygon points={tri(x1, y1, -1)} fill="#000" />}
    </g>
  );
}

function Caption({ x, y, text }: { x: number; y: number; text: string }) {
  return (
    <text x={x} y={y} textAnchor="middle" fontSize={19} fill="#000" fontFamily={SANS}>{text}</text>
  );
}

export default function App() {
  return (
    <div style={{ position: 'absolute', left: 0, top: 0, width: 1068, height: 1318, background: '#fff', overflow: 'hidden', fontFamily: SANS }}>
      <Panel box={[57, 8, 487, 339]} yTicks={ampTicksA} points={ecgA as Pt[]} />
      <Panel box={[609, 8, 1050, 344]} yTicks={ampTicks} points={ecgB as Pt[]} qs={qsLinesB} />
      <Panel box={[50, 464, 489, 795]} yTicks={ampTicks} points={ecgC as Pt[]} qs={qsLinesC} />
      <Panel box={[614, 458, 1048, 787]} yTicks={ampTicks} points={ecgD as Pt[]} />
      <Panel box={[47, 909, 479, 1238]} yTicks={ampTicks} points={ecgE as Pt[]} />
      <Panel box={[617, 908, 1048, 1243]} yTicks={ampTicks} points={ecgF as Pt[]} />

      <svg width={1068} height={1318} style={{ position: 'absolute', left: 0, top: 0, pointerEvents: 'none' }}>
        {/* (a) */}
        <Note x={87} y={316} text="정상 패턴" size={20} weight={400} gap={2.5} />
        <Caption x={252} y={405} text="(a)" />

        {/* (b) */}
        <Arrow x1={702} y1={33} x2={764} y2={33} both />
        <Arrow x1={785} y1={33} x2={886} y2={33} both />
        <Note x={792} y={55} text="RR 간격의 변화 큼" gap={2} />
        <Arrow x1={759} y1={198} x2={803} y2={198} both head={9} half={4} sw={2.5} />
        <Note x={817} y={210} text="넓은 QS 간격" gap={1.5} />
        <Note x={625} y={211} text="패턴 B(PVC)" size={18} weight={400} gap={2} squeeze={0.76} />
        <Caption x={813} y={405} text="(b)" />

        {/* (c) */}
        <Arrow x1={155} y1={500} x2={219} y2={500} both />
        <Arrow x1={303} y1={498} x2={435} y2={498} both head={16} half={6} sw={3} />
        <Note x={304} y={526} text="RR 간격의 변화 큼" gap={2} />
        <Arrow x1={216} y1={712} x2={257} y2={712} both head={9} half={4} sw={2.5} />
        <Note x={267} y={717} text="넓은 QS 간격" gap={1.5} />
        <Note x={65} y={680} text="패턴 B" size={18} weight={400} gap={3} squeeze={0.75} />
        <Caption x={252} y={857} text="(c)" />

        {/* (d) */}
        <Note x={739} y={536} text="좁은 QS 간격" gap={1.5} />
        <Note x={846} y={534} text="넓은 QS 간격" gap={1.5} />
        <Arrow x1={719} y1={639} x2={768} y2={629} head={13} half={5} />
        <Note x={739} y={659} text="패턴 B" size={18} weight={400} gap={3} squeeze={0.75} />
        <Note x={642} y={683} text="패턴 B와 패턴 C의" gap={1} />
        <Note x={642} y={703} text="진폭 변화의 차이가 큼" gap={2.5} />
        <Note x={863} y={711} text="패턴 C" size={18} weight={400} gap={3} squeeze={0.75} />
        <Arrow x1={908} y1={737} x2={857} y2={723} head={13} half={5} />
        <Caption x={813} y={857} text="(d)" />

        {/* (e) */}
        <Arrow x1={128} y1={1106} x2={176} y2={1106} both />
        <Note x={135} y={1139} text="PAC" size={18} squeeze={0.62} />
        <Arrow x1={174} y1={1133} x2={223} y2={1123} head={13} half={5} />
        <Arrow x1={259} y1={1143} x2={307} y2={1133} head={13} half={5} />
        <Note x={185} y={1186} text="패턴 B" size={18} weight={400} gap={3} squeeze={0.75} />
        <Note x={283} y={1190} text="패턴 B" size={18} weight={400} gap={3} squeeze={0.75} />
        <rect x={327} y={1108} width={177} height={59} fill="#fff" />
        <Note x={329} y={1131} text="PAC와 QS 간격이 유사" size={16} weight={400} gap={1} squeeze={0.62} />
        <Note x={329} y={1156} text="진폭변화량을 통해검출" size={16} weight={400} gap={2.5} />
        <Caption x={252} y={1309} text="(e)" />

        {/* (f) */}
        <Note x={687} y={1196} text="패턴 A" size={18} weight={400} gap={3} squeeze={0.75} />
        <Note x={797} y={1139} text="RR 간격의 변화 큼" gap={2} />
        <Note x={797} y={1158} text="좁은 QS 간격" gap={1.5} />
        <Note x={797} y={1178} text="이전과 이후 패턴 불일치" gap={2.5} />
        <Caption x={813} y={1309} text="(f)" />
      </svg>
    </div>
  );
}
